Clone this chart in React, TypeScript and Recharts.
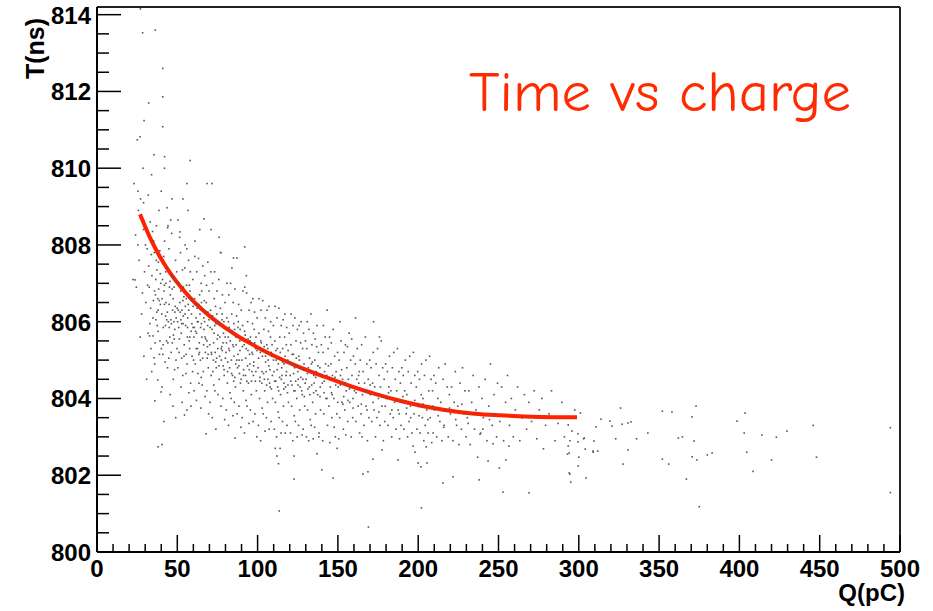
import React from 'react'
import { ComposedChart, Scatter, Line, XAxis, YAxis, ReferenceLine } from 'recharts'

// axis ticks (minor + major), labels only on the majors
const xTicks = [0, 10, 20, 30, 40, 50, 60, 70, 80, 90, 100, 110, 120, 130, 140, 150, 160, 170, 180, 190, 200, 210, 220, 230, 240, 250, 260, 270, 280, 290, 300, 310, 320, 330, 340, 350, 360, 370, 380, 390, 400, 410, 420, 430, 440, 450, 460, 470, 480, 490, 500]
const xMajor = [0, 50, 100, 150, 200, 250, 300, 350, 400, 450, 500]
const yTicks = [800, 800.5, 801, 801.5, 802, 802.5, 803, 803.5, 804, 804.5, 805, 805.5, 806, 806.5, 807, 807.5, 808, 808.5, 809, 809.5, 810, 810.5, 811, 811.5, 812, 812.5, 813, 813.5, 814]
const yMajor = [800, 802, 804, 806, 808, 810, 812, 814]

// fitted time-walk curve
const fitQ = [26.8, 33, 39.2, 45.5, 51.7, 57.9, 64.1, 70.4, 76.6, 82.8, 89, 95.3, 102.7, 110.8, 126.4, 142, 157.5, 173.1, 188.7, 204.2, 219.8, 235.4, 250.9, 275.8, 298.9]
const fitT = [808.8, 808.19, 807.69, 807.27, 806.93, 806.63, 806.37, 806.14, 805.94, 805.76, 805.59, 805.44, 805.27, 805.1, 804.81, 804.56, 804.33, 804.12, 803.94, 803.79, 803.68, 803.6, 803.56, 803.52, 803.51]

// [Q(pC), T(ns)] hits
const strays = [[27, 814.15], [28.4, 813.53], [36.3, 813.6], [40.9, 812.6], [40.9, 811.86], [32.2, 811.7], [29.3, 811.24], [40.9, 811.08], [26.8, 810.82], [25.1, 810.74], [35.5, 810.35], [42.1, 810.3], [58, 810.2], [56, 809.6], [68.5, 809.6], [71.6, 809.6], [46.7, 809.2], [53.5, 809.2], [23, 809.6], [28.6, 810.0], [42, 810.0], [34, 809.83], [25.5, 809.4], [40, 809.4], [29, 809.1], [22.4, 807.1], [24, 808.26], [25.5, 808.0], [23.7, 807.09], [92, 807.95], [85, 807.66], [77, 807.8], [38, 802.74], [40.5, 802.8]]

const hitsLow = [
  [24.5, 806.9], [26.2, 807.6], [27.8, 806.2], [28.9, 808.4], [26.9, 805.6], [29.6, 807.3], [25.8, 808.9], [28.3, 806.75], [29.2, 805.1], [27.1, 809.2],
  [30.4, 806.5], [31.2, 807.9], [31.8, 805.7], [32.5, 806.9], [33.1, 808.6], [33.6, 805.3], [34.2, 807.2], [34.8, 806.1], [35.3, 808.1], [35.9, 804.9], [36.4, 806.7], [36.9, 807.6], [37.5, 805.9], [38.1, 806.3], [38.6, 808.9], [39.2, 805.5], [39.7, 807.0], [30.9, 804.5], [31.5, 806.95], [32.2, 807.45], [32.9, 805.95], [33.4, 806.35], [34.1, 804.7], [34.6, 808.35], [35.1, 806.55], [35.7, 807.8], [36.2, 805.45], [36.7, 806.05], [37.3, 807.35], [37.8, 804.48], [38.4, 806.85], [38.9, 805.15], [39.5, 806.45], [30.2, 808.0], [31.9, 809.3], [33.8, 807.75], [35.5, 805.06], [37.0, 808.5], [38.2, 807.55], [39.9, 804.17], [36.0, 803.94], [32.7, 805.63], [34.9, 805.63], [37.9, 806.6], [39.1, 807.85],
  [40.3, 806.2], [40.8, 807.1], [41.2, 805.4], [41.7, 806.8], [42.1, 808.1], [42.6, 805.9], [43.0, 806.5], [43.5, 807.4], [43.9, 804.8], [44.4, 806.0], [44.8, 807.9], [45.3, 805.6], [45.7, 806.7], [46.2, 805.2], [46.6, 807.2], [47.1, 806.3], [47.5, 804.5], [48.0, 806.9], [48.4, 805.8], [48.9, 807.6], [49.3, 806.1], [49.8, 805.3], [40.5, 804.3], [41.0, 805.15], [41.5, 807.7], [42.0, 806.45], [42.4, 804.95], [42.9, 807.0], [43.3, 805.5], [43.8, 806.25], [44.2, 808.5], [44.7, 805.05], [45.1, 806.9], [45.6, 804.1], [46.0, 806.05], [46.5, 808.3], [46.9, 805.45], [47.4, 806.6], [47.8, 807.15], [48.3, 804.75], [48.7, 806.4], [49.2, 805.0], [49.6, 807.3], [40.1, 805.3], [43.6, 808.97], [44.0, 808.45], [45.9, 808.65], [47.3, 803.8], [41.6, 803.4], [48.1, 805.55], [49.0, 803.5], [45.0, 805.85], [42.7, 806.15], [47.9, 806.0],
  [50.2, 806.0], [50.7, 807.0], [51.1, 805.2], [51.6, 806.5], [52.0, 807.8], [52.5, 805.7], [52.9, 806.3], [53.4, 804.6], [53.8, 806.9], [54.3, 805.4], [54.7, 807.4], [55.2, 805.9], [55.6, 806.6], [56.1, 804.9], [56.5, 806.1], [57.0, 807.6], [57.4, 805.5], [57.9, 806.8], [58.3, 804.4], [58.8, 806.2], [59.2, 805.1], [59.7, 807.1], [50.4, 804.8], [50.9, 805.85], [51.4, 808.2], [51.8, 806.25], [52.3, 804.3], [52.7, 805.05], [53.2, 807.35], [53.6, 805.95], [54.1, 806.65], [54.5, 803.57], [55.0, 806.4], [55.4, 804.65], [55.9, 807.9], [56.3, 805.6], [56.8, 806.45], [57.2, 804.15], [57.7, 805.3], [58.1, 807.3], [58.6, 805.75], [59.0, 806.55], [59.5, 804.7], [50.5, 808.65], [51.7, 808.34], [53.0, 803.9], [56.0, 803.7], [56.7, 808.9], [54.9, 808.0], [58.5, 803.8], [52.2, 806.05], [57.5, 806.95], [59.8, 805.85], [55.5, 805.15], [53.7, 806.15],
]

const hitsMid = [
  [60.3, 805.6], [60.8, 806.6], [61.2, 804.9], [61.7, 806.1], [62.1, 807.3], [62.6, 805.3], [63.0, 806.0], [63.5, 804.4], [63.9, 806.7], [64.4, 805.0], [64.8, 807.0], [65.3, 805.6], [65.7, 806.3], [66.2, 804.7], [66.6, 805.8], [67.1, 807.2], [67.5, 805.2], [68.0, 806.5], [68.4, 804.2], [68.9, 805.9], [69.3, 804.8], [69.8, 806.8], [60.5, 804.2], [60.9, 807.7], [61.4, 805.75], [61.9, 803.95], [62.3, 806.35], [62.8, 804.65], [63.2, 807.65], [63.7, 805.45], [64.1, 806.2], [64.6, 803.75], [65.0, 805.95], [65.5, 804.35], [65.9, 807.45], [66.4, 805.4], [66.8, 806.55], [67.3, 804.05], [67.7, 805.55], [68.2, 806.95], [68.6, 805.05], [69.1, 806.25], [69.5, 803.6], [66.6, 808.68], [68.0, 803.08], [61.0, 808.1], [64.0, 808.4], [69.0, 807.55], [62.0, 805.7], [63.4, 805.15], [65.2, 806.8], [67.0, 806.0], [68.8, 805.35], [60.1, 805.0], [64.9, 804.55],
  [70.2, 805.4], [70.7, 806.3], [71.1, 804.6], [71.6, 805.8], [72.0, 807.0], [72.5, 805.0], [72.9, 805.7], [73.4, 804.2], [73.8, 806.4], [74.3, 804.8], [74.7, 806.8], [75.2, 805.3], [75.6, 806.0], [76.1, 804.5], [76.5, 805.6], [77.0, 807.8], [77.4, 805.0], [77.9, 806.2], [78.3, 804.0], [78.8, 805.7], [79.2, 804.6], [79.7, 806.5], [70.4, 803.9], [70.9, 807.3], [71.3, 805.15], [71.8, 803.5], [72.3, 806.05], [72.7, 804.35], [73.2, 807.3], [73.6, 805.2], [74.1, 805.95], [74.0, 803.2], [74.9, 805.55], [75.4, 804.1], [75.8, 807.1], [76.3, 805.1], [76.8, 806.35], [77.2, 803.8], [77.7, 805.35], [78.1, 806.7], [78.6, 804.85], [79.0, 806.0], [79.5, 803.45], [76.0, 808.2], [71.0, 808.4], [73.0, 806.6], [74.5, 805.05], [78.0, 805.25], [79.9, 805.05], [72.1, 804.7],
  [80.3, 805.2], [80.8, 806.1], [81.2, 804.4], [81.7, 805.6], [82.1, 806.7], [82.6, 804.8], [83.0, 805.5], [83.5, 804.0], [83.9, 806.2], [84.4, 804.6], [84.8, 806.5], [85.3, 805.1], [85.7, 805.8], [86.2, 804.3], [86.6, 805.4], [87.1, 807.66], [87.5, 804.8], [88.0, 806.0], [88.4, 803.8], [88.9, 805.5], [89.3, 804.4], [89.8, 806.3], [80.5, 803.7], [80.9, 807.0], [81.4, 804.95], [81.9, 803.3], [82.3, 805.85], [82.8, 804.15], [83.2, 807.0], [83.7, 805.0], [84.1, 805.75], [84.6, 803.55], [85.0, 805.35], [85.5, 803.9], [85.9, 806.85], [86.4, 804.9], [86.0, 802.97], [86.9, 806.15], [87.3, 803.6], [87.8, 805.15], [88.2, 806.45], [88.7, 804.65], [89.1, 805.8], [89.6, 803.25], [84.0, 807.4], [82.0, 805.3], [88.5, 805.0], [85.1, 804.45],
  [90.2, 805.0], [90.7, 805.9], [91.1, 804.2], [91.6, 805.4], [92.0, 806.9], [92.5, 804.6], [92.9, 805.3], [93.4, 803.8], [93.8, 806.0], [94.3, 804.4], [94.7, 806.3], [95.2, 804.9], [95.6, 805.6], [96.1, 804.1], [96.5, 805.2], [97.0, 806.6], [97.4, 804.6], [97.9, 805.8], [98.3, 803.6], [98.8, 805.3], [99.2, 804.2], [99.7, 806.1], [90.4, 803.5], [90.9, 806.8], [91.3, 804.75], [91.8, 803.1], [92.3, 805.65], [92.8, 803.95], [93.2, 806.75], [93.7, 804.85], [94.1, 805.55], [94.6, 803.35], [95.0, 805.15], [95.5, 803.7], [95.9, 806.5], [96.4, 804.7], [96.8, 805.95], [97.2, 803.4], [97.7, 804.95], [98.1, 806.25], [98.6, 804.45], [99.0, 805.6], [99.5, 803.0], [93.0, 807.2], [96.0, 805.45],
  [100.3, 804.8], [100.8, 805.7], [101.2, 804.0], [101.7, 805.2], [102.1, 806.3], [102.6, 804.4], [103.0, 805.1], [103.5, 803.6], [103.9, 805.8], [104.4, 804.2], [104.8, 806.1], [105.3, 804.7], [105.7, 805.4], [106.2, 803.9], [106.6, 805.0], [107.1, 806.4], [107.5, 804.4], [108.0, 805.6], [108.4, 803.4], [108.9, 805.1], [109.3, 804.0], [109.8, 805.9], [100.5, 803.3], [100.9, 806.6], [101.4, 804.55], [101.9, 802.9], [102.3, 805.45], [102.8, 803.75], [103.2, 806.55], [103.7, 804.65], [104.1, 805.35], [104.6, 803.15], [105.0, 804.95], [105.5, 803.5], [105.9, 806.3], [106.4, 804.5], [106.8, 805.75], [107.2, 803.2], [107.7, 804.75], [108.1, 806.0], [108.6, 804.25], [109.0, 805.4],
  [110.2, 804.7], [110.7, 805.5], [111.0, 802.7], [111.1, 803.9], [111.6, 805.0], [112.0, 802.5], [112.1, 806.1], [112.5, 804.3], [113.0, 802.3], [112.9, 804.9], [113.4, 803.5], [113.5, 801.07], [113.8, 805.6], [114.0, 802.7], [114.3, 804.1], [114.7, 805.9], [115.2, 804.6], [115.6, 805.3], [116.1, 803.8], [116.5, 804.9], [117.0, 806.2], [117.4, 804.3], [117.9, 805.4], [118.3, 803.3], [118.8, 805.0], [119.2, 803.9], [119.7, 805.7], [110.4, 803.2], [110.9, 806.4], [111.3, 804.45], [111.8, 803.0], [112.3, 805.3], [112.8, 803.65], [113.2, 806.35], [113.7, 804.55], [114.1, 805.2], [114.6, 803.1], [115.0, 804.8], [115.5, 803.4], [115.9, 806.05], [116.4, 804.4], [116.8, 805.6], [117.2, 803.1], [117.7, 804.6], [118.1, 805.85], [118.6, 804.15], [119.0, 805.25],
  [120.3, 804.6], [120.8, 805.4], [121.2, 803.8], [121.7, 804.9], [122.1, 805.9], [122.6, 804.2], [122.7, 802.5], [122.7, 801.9], [123.0, 804.8], [123.5, 803.4], [123.9, 805.5], [124.4, 804.0], [124.8, 805.8], [125.3, 804.5], [125.7, 805.1], [126.2, 803.7], [126.6, 804.8], [127.1, 806.0], [127.5, 804.2], [128.0, 805.3], [128.4, 803.2], [128.9, 804.9], [129.3, 803.8], [129.8, 805.5], [120.5, 803.1], [120.9, 806.2], [121.4, 804.35], [121.9, 802.9], [122.3, 805.15], [122.8, 803.55], [123.2, 806.1], [123.7, 804.45], [124.1, 805.05], [124.6, 803.0], [125.0, 804.7], [125.5, 803.3], [125.9, 805.9], [126.4, 804.3], [126.8, 805.45], [127.7, 803.05], [128.2, 804.5], [128.6, 805.7], [129.1, 804.05],
]

// extra hits in the densest part of the band
const hitsCore = [
  [35.8, 806.8], [36.6, 807.1], [37.2, 806.25], [38.0, 805.75], [38.8, 806.55], [39.4, 807.25], [40.6, 806.6], [41.3, 805.85], [41.9, 806.95], [42.8, 807.3], [43.4, 806.05], [44.1, 805.45], [44.9, 806.45], [45.5, 807.05], [46.3, 805.95], [46.8, 806.85], [47.6, 805.65], [48.5, 806.25], [49.1, 807.05], [49.9, 806.35],
  [50.6, 806.3], [51.3, 805.55], [52.1, 806.8], [52.8, 805.95], [53.5, 806.55], [54.2, 805.1], [54.8, 806.2], [55.7, 806.95], [56.4, 805.85], [57.1, 806.3], [57.8, 805.6], [58.4, 806.6], [59.1, 805.95], [59.9, 806.4], [60.6, 805.85], [61.3, 806.45], [61.8, 805.3], [62.5, 806.0], [63.3, 806.45], [63.8, 805.2], [64.5, 805.85], [65.1, 806.5], [65.8, 805.05], [66.5, 806.1], [67.2, 805.6], [67.9, 806.25], [68.5, 805.5], [69.2, 805.15], [69.7, 806.05],
  [70.5, 805.85], [71.2, 805.2], [71.9, 806.15], [72.6, 805.45], [73.3, 805.9], [73.9, 804.95], [74.6, 806.2], [75.3, 805.65], [75.9, 804.85], [76.6, 805.95], [77.3, 805.3], [77.8, 806.05], [78.5, 805.45], [79.1, 804.75], [79.8, 805.6], [80.6, 805.45], [81.3, 804.7], [81.8, 806.0], [82.5, 805.25], [83.3, 805.75], [83.8, 804.65], [84.5, 805.4], [85.2, 805.95], [85.8, 804.55], [86.5, 805.6], [87.0, 805.0], [87.7, 805.85], [88.3, 804.85], [89.0, 805.25], [89.7, 804.5], [90.5, 805.35], [91.2, 804.6], [91.9, 805.75], [92.6, 805.05], [93.3, 804.45], [94.0, 805.25], [94.8, 804.75], [95.4, 805.5], [96.2, 804.45], [96.9, 805.15], [97.5, 804.85], [98.2, 805.45], [98.9, 804.7], [99.6, 805.25],
  [100.6, 805.05], [101.3, 804.45], [102.0, 805.5], [102.7, 804.7], [103.4, 805.25], [104.2, 804.5], [104.9, 805.1], [105.6, 804.35], [106.3, 805.3], [107.0, 804.85], [107.8, 804.3], [108.5, 805.2], [109.2, 804.6], [109.9, 805.0], [110.6, 804.45], [111.4, 805.25], [112.2, 804.75], [113.1, 804.2], [113.9, 805.05], [114.8, 804.5], [115.6, 804.95], [116.3, 804.25], [117.1, 805.1], [118.0, 804.7], [118.9, 804.35], [119.8, 804.95], [120.7, 804.45], [121.5, 805.15], [122.4, 804.65], [123.3, 804.2], [124.2, 804.85], [125.1, 804.35], [126.0, 805.0], [126.9, 804.55], [127.8, 804.1], [128.7, 804.75], [129.6, 804.4], [131.0, 804.65], [132.2, 804.3], [133.5, 804.9], [134.9, 804.15], [136.2, 804.55], [137.6, 804.85], [138.9, 804.05], [139.9, 804.6],
  [141.5, 804.45], [143.2, 804.0], [144.9, 804.5], [146.4, 804.1], [148.2, 804.55], [149.9, 803.9], [151.5, 804.35], [153.1, 803.85], [154.6, 804.4], [156.3, 803.95], [157.8, 804.3], [159.5, 803.75], [161.3, 804.15], [162.9, 804.6], [164.6, 803.85], [166.4, 804.2], [168.2, 803.7], [170.0, 804.35], [171.9, 803.9], [173.7, 804.1], [175.5, 803.65], [177.6, 804.05], [179.5, 803.8], [181.5, 804.15], [183.6, 803.7], [185.9, 803.95], [188.1, 803.6], [190.5, 804.05], [192.8, 803.75], [195.3, 803.5], [197.8, 803.95], [200.5, 803.55], [203.2, 803.85], [206.0, 803.45], [209.1, 803.8], [212.4, 803.55], [215.9, 803.25], [219.5, 803.75], [223.4, 803.45], [227.2, 803.85], [231.1, 803.35], [235.5, 803.6], [240.2, 803.2], [244.4, 803.45], [248.8, 803.0],
]

const hitsHigh = [
  [130.2, 804.5], [130.7, 805.3], [131.1, 803.7], [131.6, 804.8], [132.0, 805.8], [132.5, 804.1], [132.9, 804.7], [133.4, 803.3], [133.8, 805.4], [134.3, 803.9], [134.7, 805.7], [135.2, 804.4], [135.6, 805.0], [136.1, 803.6], [136.5, 804.7], [137.0, 805.9], [137.0, 802.56], [137.4, 804.1], [137.9, 805.2], [138.3, 803.1], [138.8, 804.8], [139.2, 803.7], [139.7, 805.4], [140.0, 802.14], [130.4, 803.0], [130.9, 806.0], [131.3, 804.25], [131.8, 802.9], [132.3, 805.05], [132.8, 803.45], [133.2, 806.2], [133.7, 804.35], [134.1, 804.95], [134.6, 802.95], [135.0, 804.6], [135.5, 803.25], [135.9, 805.55], [136.4, 804.2], [136.8, 805.35], [138.1, 803.0], [139.0, 804.3],
  [140.3, 804.4], [140.8, 805.2], [141.2, 803.6], [141.7, 804.7], [142.1, 805.6], [142.6, 804.0], [143.0, 804.6], [143.5, 803.3], [143.9, 805.3], [144.4, 803.8], [144.8, 805.6], [145.3, 804.3], [145.7, 804.9], [146.2, 803.5], [146.6, 804.6], [147.0, 801.93], [147.1, 805.8], [147.5, 804.0], [148.0, 805.1], [148.4, 803.0], [148.9, 804.7], [149.3, 803.6], [149.8, 805.2], [140.5, 802.9], [141.0, 805.9], [141.4, 804.15], [142.3, 804.9], [143.3, 806.3], [144.1, 804.85], [145.0, 802.85], [146.0, 804.15], [147.7, 803.25], [148.6, 804.35], [149.5, 802.7], [145.9, 805.45],
  [150.2, 804.3], [150.7, 805.0], [151.1, 803.5], [151.6, 804.6], [152.0, 805.5], [152.5, 803.9], [152.9, 804.5], [153.4, 803.2], [153.8, 805.2], [154.3, 803.7], [154.7, 805.4], [155.2, 804.2], [155.6, 804.8], [156.1, 803.4], [156.5, 804.5], [157.0, 805.7], [157.4, 803.9], [157.9, 805.0], [158.3, 803.0], [158.8, 804.6], [159.2, 803.5], [159.7, 805.1], [150.5, 802.95], [151.3, 806.0], [152.3, 804.75], [153.6, 804.05], [154.9, 803.05], [155.9, 805.35], [157.2, 804.25], [158.6, 805.55], [159.4, 804.0],
  [160.3, 804.2], [160.8, 804.9], [161.2, 803.4], [161.7, 804.5], [162.1, 805.3], [162.6, 803.8], [163.0, 804.4], [163.5, 803.1], [163.9, 805.0], [164.4, 803.6], [164.8, 805.4], [165.3, 804.1], [165.6, 802.03], [165.7, 804.7], [166.2, 803.3], [166.6, 804.4], [167.1, 805.6], [167.5, 803.8], [168.0, 804.9], [168.7, 802.09], [168.4, 802.9], [168.9, 804.5], [169.0, 800.65], [169.3, 803.5], [169.8, 805.0], [161.0, 806.1], [163.3, 804.7], [165.0, 803.0], [167.8, 804.2],
  [170.2, 804.1], [170.7, 804.8], [171.1, 803.4], [171.8, 802.42], [171.6, 804.4], [172.0, 805.2], [172.5, 803.7], [172.9, 804.3], [173.4, 803.0], [173.8, 804.9], [174.3, 803.5], [174.7, 805.3], [175.2, 804.0], [175.6, 804.6], [176.1, 803.3], [176.5, 804.3], [177.0, 805.5], [177.5, 802.66], [177.4, 803.8], [177.9, 804.8], [178.3, 802.9], [178.8, 804.5], [179.2, 803.4], [179.7, 804.9], [172.2, 806.0], [175.9, 805.6],
  [180.3, 804.0], [180.8, 804.7], [181.2, 803.3], [181.7, 804.3], [182.1, 805.1], [182.6, 803.6], [183.0, 804.2], [183.5, 803.0], [183.9, 804.8], [184.4, 803.5], [184.8, 805.2], [185.3, 803.9], [185.7, 804.5], [186.2, 803.2], [186.6, 804.2], [187.1, 805.3], [187.4, 802.4], [187.5, 803.7], [188.0, 804.7], [188.4, 802.95], [188.9, 804.4], [189.3, 803.3], [189.8, 804.8],
  [190.2, 803.9], [190.7, 804.6], [191.1, 803.2], [191.6, 804.2], [192.0, 805.0], [192.5, 803.6], [192.9, 804.1], [193.4, 803.0], [193.8, 804.7], [194.3, 803.4], [194.7, 805.1], [195.2, 803.8], [195.6, 804.4], [196.1, 803.1], [196.8, 802.76], [197.0, 805.2], [197.4, 803.6], [198.0, 802.6], [197.9, 804.6], [198.8, 804.3], [199.2, 803.2], [199.7, 804.7], [200.0, 802.32],
  [200.3, 803.8], [200.8, 804.5], [201.2, 803.1], [201.7, 802.22], [201.9, 804.1], [202.0, 801.15], [202.1, 804.9], [202.6, 803.5], [203.0, 804.0], [203.5, 802.9], [203.9, 804.6], [204.4, 803.3], [204.8, 805.0], [205.0, 802.74], [205.5, 802.32], [205.3, 803.7], [206.2, 803.1], [206.6, 804.2], [207.1, 805.1], [207.5, 803.5], [208.0, 804.5], [208.4, 802.85], [208.9, 804.2], [209.3, 803.1], [209.8, 804.6],
  [210.2, 803.7], [210.9, 804.4], [211.5, 803.0], [212.2, 804.0], [212.8, 804.8], [213.5, 803.4], [214.1, 803.9], [214.8, 802.9], [215.4, 801.8], [215.5, 804.5], [216.1, 803.3], [216.8, 804.9], [217.4, 803.7], [218.1, 804.3], [218.7, 803.0], [219.4, 804.1],
  [220.1, 803.6], [220.8, 804.3], [221.7, 801.96], [221.6, 802.9], [222.4, 803.9], [223.1, 804.7], [223.9, 803.3], [224.6, 803.8], [225.4, 802.8], [226.1, 804.4], [226.9, 803.2], [227.6, 804.8], [228.4, 803.6], [229.1, 804.2], [229.8, 803.0],
  [230.6, 803.5], [231.5, 804.2], [232.4, 802.8], [233.3, 803.9], [234.2, 804.6], [235.1, 803.2], [236.0, 803.7], [237.0, 802.47], [238.0, 801.88], [238.5, 803.07], [237.8, 804.3], [238.9, 803.1], [239.7, 804.0],
  [240.6, 803.5], [241.7, 804.5], [242.8, 802.9], [243.5, 802.37], [243.9, 803.8], [245.0, 804.9], [246.1, 803.3], [246.6, 802.82], [247.2, 804.1], [248.3, 803.6], [249.4, 804.4],
]

const hitsTail = [
  [250.5, 802.19], [250.8, 803.4], [252.0, 804.3], [252.8, 801.56], [253.2, 802.9], [254.4, 803.9], [254.6, 802.4], [255.6, 804.6], [256.5, 802.76], [256.8, 803.3], [258.0, 804.0], [259.2, 803.0],
  [260.5, 803.7], [261.9, 804.3], [263.3, 802.9], [264.7, 803.5], [266.1, 804.1], [267.5, 803.2], [269.0, 801.54], [268.9, 803.9],
  [270.6, 803.4], [272.2, 804.2], [273.8, 802.95], [275.4, 803.7], [277.0, 804.0], [278.0, 802.69], [279.3, 803.3],
  [281.5, 803.6], [283.0, 804.2], [285.2, 802.9], [287.0, 803.35], [289.4, 803.9], [291.0, 803.0], [293.0, 802.55], [293.4, 803.31], [293.4, 802.76], [294.0, 802.58], [294.5, 802.9], [294.5, 802.03], [294.0, 802.06], [295.0, 801.82], [295.7, 803.15], [297.5, 803.7], [299.5, 802.87], [299.5, 803.08], [299.6, 802.24], [300.0, 802.47],
  [301, 803.62], [303, 802.95], [303.4, 802.97], [304, 802.68], [304.5, 801.93], [308.8, 802.63], [309.5, 802.89], [309, 802.6], [310.7, 803.26], [311.8, 802.63], [313.8, 803.46], [319.4, 803.41], [320.7, 803.28], [323, 802.95], [326, 803.75], [327, 803.33], [327.5, 802.29], [330.6, 803.36], [330.6, 802.66], [332.5, 803.39], [336, 802.95], [343, 803.1], [352, 803.67], [352, 802.42], [356, 802.29], [358, 803.65], [362, 802.97], [364.5, 803.0], [367, 801.9], [370.5, 803.52], [370.6, 802.48], [371.7, 802.89], [373, 803.8], [373.5, 802.4], [375, 801.18], [380, 802.53], [383, 802.58], [398.5, 803.41], [403, 803.1], [403.5, 803.62], [404.6, 802.6], [408.5, 802.1], [414, 803.05], [420, 802.4], [423, 802.99], [429.6, 803.15], [446, 803.3], [448, 802.47], [494, 803.24], [494, 801.55],
]

const hits = [...strays, ...hitsLow, ...hitsMid, ...hitsCore, ...hitsHigh, ...hitsTail].map(([q, t]) => ({ q, t }))
const fit = fitQ.map((q, i) => ({ q, t: fitT[i] }))

const font = '"Liberation Sans", Arial, Helvetica, sans-serif'

const Hit = (p: any) => <rect x={p.cx - 0.8} y={p.cy - 0.8} width={1.6} height={1.6} fill="#555" />

const XTick = ({ x, y, payload }: any) => {
  const major = xMajor.includes(payload.value)
  return (
    <g>
      <line x1={x} x2={x} y1={y} y2={y - (major ? 17 : 8)} stroke="#000" strokeWidth={1.5} />
      {major && (
        <text x={x} y={y + 25} textAnchor="middle" fontSize={24} fontWeight="bold" fontFamily={font} fill="#000">
          {payload.value}
        </text>
      )}
    </g>
  )
}

const YTick = ({ x, y, payload }: any) => {
  const major = yMajor.includes(payload.value)
  return (
    <g>
      <line x1={x} x2={x + (major ? 24 : 12)} y1={y} y2={y} stroke="#000" strokeWidth={1.5} />
      {major && (
        <text x={x - 6} y={y + 9} textAnchor="end" fontSize={24} fontWeight="bold" fontFamily={font} fill="#000">
          {payload.value}
        </text>
      )}
    </g>
  )
}

export default function App() {
  return (
    <div style={{ position: 'relative', width: 933, height: 611, background: '#fff' }}>
      <style>{'body{margin:0;overflow:hidden}'}</style>
      <ComposedChart width={933} height={611} margin={{ top: 7, right: 33, bottom: 0, left: 0 }}>
        <XAxis
          type="number"
          dataKey="q"
          domain={[0, 500]}
          ticks={xTicks}
          interval={0}
          tick={<XTick />}
          tickLine={false}
          tickSize={0}
          tickMargin={0}
          height={59}
          axisLine={{ stroke: '#000', strokeWidth: 2 }}
          allowDataOverflow
        />
        <YAxis
          type="number"
          dataKey="t"
          domain={[800, 814.2]}
          ticks={yTicks}
          interval={0}
          tick={<YTick />}
          tickLine={false}
          tickSize={0}
          tickMargin={0}
          width={97}
          axisLine={{ stroke: '#000', strokeWidth: 2 }}
          allowDataOverflow
        />
        <ReferenceLine y={814.2} stroke="#222" strokeWidth={2} />
        <ReferenceLine x={500} stroke="#222" strokeWidth={2} />
        <Scatter data={hits} dataKey="t" shape={Hit} isAnimationActive={false} />
        <Line data={fit} dataKey="t" type="monotone" stroke="#ff2200" strokeWidth={4} dot={false} activeDot={false} isAnimationActive={false} />
      </ComposedChart>
      <svg width={933} height={611} style={{ position: 'absolute', left: 0, top: 0, pointerEvents: 'none' }}>
        <text transform="translate(44,18) rotate(-90)" textAnchor="end" fontSize={25} fontWeight="bold" fontFamily={font} fill="#000">
          T(ns)
        </text>
        <text x={905} y={601} textAnchor="end" fontSize={24} fontWeight="bold" fontFamily={font} fill="#000">
          Q(pC)
        </text>
        <text x={469} y={111} fontSize={56} fontFamily='"Comic Sans MS", "Comic Neue", "Noto Sans", sans-serif' fill="#ff2a00" textLength={382} lengthAdjust="spacingAndGlyphs">
          Time vs charge
        </text>
      </svg>
    </div>
  )
}
